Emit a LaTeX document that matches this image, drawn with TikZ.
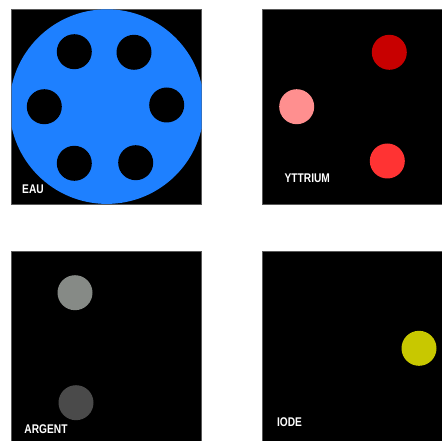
\documentclass[tikz,border=0pt]{standalone}
\usepackage{fontspec}
\setmainfont{Liberation Sans}
\newcommand{\tallT}[1]{\scalebox{0.97}[1.2]{#1}}
\begin{document}
\begin{tikzpicture}[x=1pt,y=-1pt,
  panel/.style={fill=black,draw=black!65,line width=0.6pt},
  dot/.style={circle,inner sep=0pt,minimum size=35pt},
  lbl/.style={text=white,font=\bfseries\fontsize{10.5}{12}\selectfont,inner sep=0pt}]
\useasboundingbox (0,0) rectangle (442,441);
\definecolor{eaublue}{HTML}{1E80FF}
\definecolor{ydark}{HTML}{C80000}
\definecolor{ypink}{HTML}{FF8F8F}
\definecolor{yred}{HTML}{FF3333}
\definecolor{aglight}{HTML}{868A86}
\definecolor{agdark}{HTML}{4A4A4A}
\definecolor{iyellow}{HTML}{C8C800}
% panels
\draw[panel] (11.5,9.3) rectangle (201.5,204);
\draw[panel] (262,9.3) rectangle (443,204);
\draw[panel] (11.5,251) rectangle (201.5,442);
\draw[panel] (262,251) rectangle (443,442);
% EAU
\begin{scope}
\clip (11.5,9.3) rectangle (201.5,204);
\fill[eaublue] (106.8,106.6) circle (97.3);
\end{scope}
\node[dot,fill=black] (e1) at (74.3,51.7) {};
\node[dot,fill=black] (e2) at (134,52.3) {};
\node[dot,fill=black] (e3) at (44.3,106.7) {};
\node[dot,fill=black] (e4) at (166.7,105) {};
\node[dot,fill=black] (e5) at (74.3,163.3) {};
\node[dot,fill=black] (e6) at (135.7,162.7) {};
\node[lbl] (eau) at (33,189) {\tallT{EAU}};
% YTTRIUM
\node[dot,fill=ydark] (y1) at (389.3,52.3) {};
\node[dot,fill=ypink] (y2) at (296.7,106.7) {};
\node[dot,fill=yred] (y3) at (387.3,161) {};
\node[lbl] (ytt) at (307.3,178.5) {\tallT{YTTRIUM}};
% ARGENT
\node[dot,fill=aglight] (a1) at (75,292.7) {};
\node[dot,fill=agdark] (a2) at (76,402.7) {};
\node[lbl] (arg) at (46,429.5) {\tallT{ARGENT}};
% IODE
\node[dot,fill=iyellow] (i1) at (419,348.3) {};
\node[lbl] (iode) at (289.5,422) {\tallT{IODE}};
\end{tikzpicture}
\end{document}
